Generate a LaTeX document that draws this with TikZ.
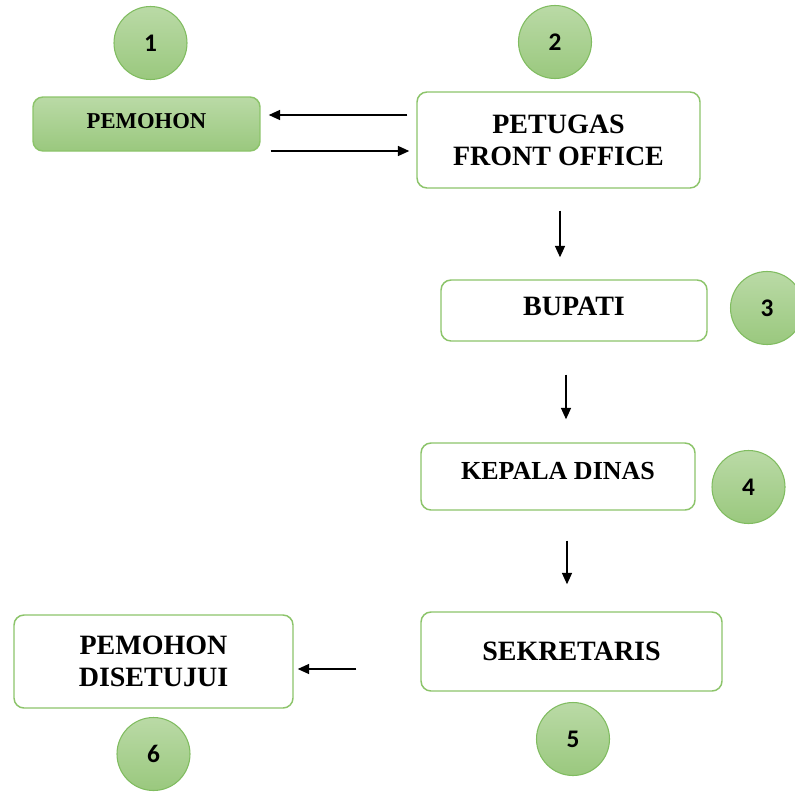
\documentclass[tikz,border=0pt]{standalone}
\usepackage{fontspec}
\setmainfont{Liberation Serif}
\newfontfamily\numfont{Carlito}
\usetikzlibrary{calc,arrows.meta}

\definecolor{boxline}{RGB}{140,196,106}
\definecolor{circline}{RGB}{128,188,96}
\definecolor{greentop}{RGB}{186,218,166}
\definecolor{greenbot}{RGB}{154,200,126}

\tikzset{
  stepbox/.style={draw=boxline, line width=1.1pt, rounded corners=7.5pt, fill=white,
    font=\bfseries\fontsize{21}{24}\selectfont, align=center, inner sep=0pt},
  greenbox/.style={stepbox, top color=greentop, bottom color=greenbot},
  numcirc/.style={circle, draw=circline, line width=0.8pt, top color=greentop, bottom color=greenbot,
    minimum size=54.75pt, inner sep=0pt, font=\numfont\bfseries\fontsize{19}{21}\selectfont},
  flow/.style={-{Triangle[length=8.5pt,width=7.5pt]}, line width=1pt}
}

\begin{document}
\begin{tikzpicture}[x=0.75pt, y=-0.75pt]
      \useasboundingbox (0,0) rectangle (795,792);
      \clip (0,0) rectangle (795,792);

      % Process Boxes
      \node[greenbox, minimum width=170.25pt, minimum height=40.5pt, text depth=4pt, font=\bfseries\fontsize{17}{20}\selectfont] (pemohon) at (146.5,124) {PEMOHON};
      \node[stepbox, minimum width=212.25pt, minimum height=72pt] (petugas) at (558.5,140) {PETUGAS\\FRONT OFFICE};
      \node[stepbox, minimum width=199.5pt, minimum height=45.75pt, text depth=6pt] (bupati) at (574,310.5) {BUPATI};
      \node[stepbox, minimum width=205.5pt, minimum height=50.25pt, text depth=9pt, font=\bfseries\fontsize{19.5}{22}\selectfont] (kepala) at (558,476.5) {KEPALA DINAS};
      \node[stepbox, minimum width=225.75pt, minimum height=59.25pt] (sekretaris) at (571.5,651.5) {SEKRETARIS};
      \node[stepbox, minimum width=209.25pt, minimum height=69.75pt] (setuju) at (153.5,661.5) {PEMOHON\\DISETUJUI};

      % Step Numbers
      \foreach \n/\x/\y in {1/150.5/43, 2/555/42, 3/767/308, 4/748.5/487, 5/573/739, 6/153.5/754} {
          \node[numcirc] (num\n) at (\x,\y) {\n};
        }

      % Arrows
      \draw[flow] ($(petugas.west)+(-9,-25)$) -- ($(pemohon.east)+(8,-9)$);
      \draw[flow] ($(pemohon.east)+(10,27)$) -- ($(petugas.west)+(-7,11)$);
      \draw[flow] ($(petugas.south)+(1.5,22)$) -- ($(bupati.north)+(-14,-22)$);
      \draw[flow] ($(bupati.south)+(-8,33)$) -- ($(kepala.north)+(8,-23)$);
      \draw[flow] ($(kepala.south)+(9,30)$) -- ($(sekretaris.north)+(-4.5,-27)$);
      \draw[flow] ($(sekretaris.west)+(-64,17.5)$) -- ($(setuju.east)+(4,7.5)$);

    \end{tikzpicture}
\end{document}
